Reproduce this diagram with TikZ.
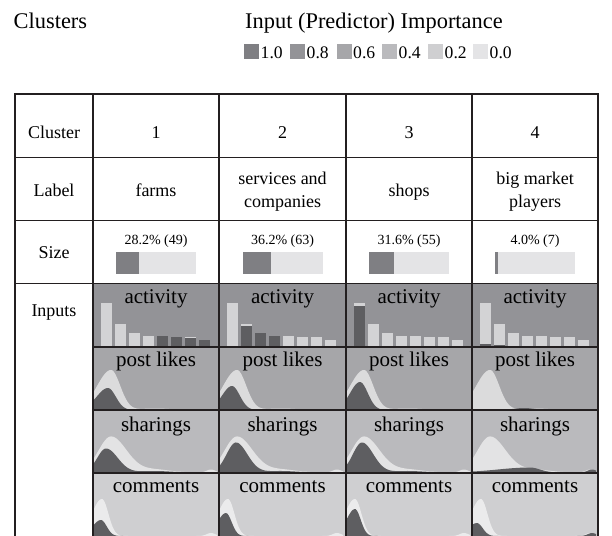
\documentclass[tikz,border=0pt]{standalone}
\usepackage{fontspec}
\setmainfont{Liberation Serif}
\usepackage{xcolor}
\usetikzlibrary{calc,positioning}

\definecolor{imp10}{HTML}{7F7F83}
\definecolor{imp08}{HTML}{939397}
\definecolor{imp06}{HTML}{A6A6A9}
\definecolor{imp04}{HTML}{BABABD}
\definecolor{imp02}{HTML}{CFCFD1}
\definecolor{imp00}{HTML}{E4E4E6}
\definecolor{rule}{HTML}{231F20}
\definecolor{clusterfill}{HTML}{5E5E61}

% density of one input in one cell: x0, base, peak, height, left width, right width, tail, style
\newcommand{\densfill}[8]{%
  \fill[#8] (#1,#2) -- plot[domain=0:124,samples=90,smooth]
    ({#1+\x},{#2-(#4*exp(-(\x-#3)*(\x-#3)/((\x<#3)?(#5*#5):(#6*#6)))+#7*exp(-(\x-62)*(\x-62)/484))})
    -- (#1+124,#2) -- cycle;}

\begin{document}
\begin{tikzpicture}[x=1pt,y=-1pt,
  title/.style={font=\fontsize{22.4}{27}\selectfont,inner sep=0pt,anchor=base west},
  lgd/.style={font=\fontsize{17.6}{21}\selectfont,inner sep=0pt,anchor=base west},
  celltext/.style={font=\fontsize{18}{23}\selectfont,inner sep=0pt,anchor=base,align=center},
  pcttext/.style={font=\fontsize{14}{17}\selectfont,inner sep=0pt,anchor=base},
  inlabel/.style={font=\fontsize{21}{25}\selectfont,inner sep=0pt,anchor=base},
  overall/.style={fill=white,fill opacity=0.6},
  gridline/.style={draw=rule,line width=1.5pt}]

\useasboundingbox (0,0) rectangle (612,535);

\node[title] (clusters) at (13.5,29) {Clusters};
\node[title] (importance) at (245,29) {Input (Predictor) Importance};

% legend
\foreach \lx/\c/\v [count=\k] in {244/imp10/1.0,290/imp08/0.8,336.5/imp06/0.6,382/imp04/0.4,428/imp02/0.2,473/imp00/0.0}{
  \fill[\c] (\lx,44) rectangle ++(15,15);
  \node[lgd] (lgd\k) at (\lx+16.5,59) {\v};
}

% input rows
\fill[imp08] (93,283.5) rectangle (598,347);
\fill[imp06] (93,347) rectangle (598,410);
\fill[imp04] (93,410) rectangle (598,473);
\fill[imp02] (93,473) rectangle (598,537);

% activity
\foreach \cx/\dk in {93/{0,0,0,0,10,9,8.5,6},219/{0,20,13,10,0,0,0,0},346/{40,0,0,0,0,0,0,0},472/{2,1,0,0,0,0,0,0}}{
  \foreach \h [count=\i from 0] in {43,22,13,10,10,9,9.5,6}
    \fill[overall] ({\cx+8+14*\i},346) rectangle ++(11,-\h);
  \foreach \h [count=\i from 0] in \dk
    \fill[clusterfill] ({\cx+8+14*\i},346) rectangle ++(11,-\h);
}

% post likes
\foreach \cx in {93,219,346,472}
  \densfill{\cx}{410}{18}{40}{19.5}{13}{1.5}{overall};
\foreach \cx/\pp/\ph/\pl/\pr in {93/15/22/16/11,219/13/24/14/11,346/14/28/14/11}
  \densfill{\cx}{410}{\pp}{\ph}{\pl}{\pr}{0}{clusterfill};
\densfill{472}{410}{52}{2}{14}{14}{0}{clusterfill};

% sharings
\foreach \cx in {93,219,346,472}{
  \densfill{\cx}{472.5}{18}{36}{17.8}{22}{3}{overall};
  \densfill{\cx}{472.5}{118}{3}{6}{6}{0}{overall};
}
\foreach \cx/\pp/\ph/\pl/\pr in {93/13/24/12.4/16.6,219/17/30/13.4/16,346/16/30/13/16}
  \densfill{\cx}{472.5}{\pp}{\ph}{\pl}{\pr}{1.5}{clusterfill};
\densfill{472}{472.5}{58}{5}{45}{14}{0}{clusterfill};
\densfill{472}{472.5}{120}{3}{6}{6}{0}{clusterfill};

% comments
\foreach \cx in {93,219,346,472}{
  \densfill{\cx}{536}{9}{37}{14.4}{9}{0}{overall};
  \densfill{\cx}{536}{118}{3}{6}{6}{0}{overall};
}
\foreach \cx/\pp/\ph in {93/8/16,219/7/23,346/9/27,472/5/13}
  \densfill{\cx}{536}{\pp}{\ph}{12}{8}{0}{clusterfill};
\densfill{472}{536}{120}{3}{6}{6}{0}{clusterfill};

% size bars
\foreach \cx/\pc in {156/28.2,282.5/36.2,409/31.6,535/4.0}{
  \fill[imp00] (\cx-40,252) rectangle (\cx+40,274);
  \fill[imp10] (\cx-40,252) rectangle (\cx-40+0.8*\pc,274);
}

% grid
\draw[gridline] (15,94) -- (598,94);
\draw[gridline] (15,157.5) -- (598,157.5);
\draw[gridline] (15,220.5) -- (598,220.5);
\draw[gridline] (15,283.5) -- (598,283.5);
\draw[gridline] (93,347) -- (598,347);
\draw[gridline] (93,410) -- (598,410);
\draw[gridline] (93,473) -- (598,473);
\foreach \vx in {15,93,219,346,472,598}
  \draw[gridline] (\vx,93.25) -- (\vx,537);

% table texts
\node[celltext] (hcluster) at (54,138) {Cluster};
\node[celltext] (hone) at (156,138) {1};
\node[celltext] (htwo) at (282.5,138) {2};
\node[celltext] (hthree) at (409,138) {3};
\node[celltext] (hfour) at (535,138) {4};

\node[celltext] (hlabel) at (54,196) {Label};
\node[celltext] (farms) at (156,196) {farms};
\node[celltext] (services) at (282.5,207) {services and\\companies};
\node[celltext] (shops) at (409,196) {shops};
\node[celltext] (bigplayers) at (535,207) {big market\\players};

\node[celltext] (hsize) at (54,258) {Size};
\node[pcttext] (sizeone) at (156,244) {28.2\% (49)};
\node[pcttext] (sizetwo) at (282.5,244) {36.2\% (63)};
\node[pcttext] (sizethree) at (409,244) {31.6\% (55)};
\node[pcttext] (sizefour) at (535,244) {4.0\% (7)};

\node[celltext] (hinputs) at (54,316) {Inputs};

\foreach \cx [count=\k] in {156,282.5,409,535}{
  \node[inlabel] (activity\k) at (\cx,303) {activity};
  \node[inlabel] (likes\k) at (\cx,366.5) {post likes};
  \node[inlabel] (sharings\k) at (\cx,431) {sharings};
  \node[inlabel] (comments\k) at (\cx,492) {comments};
}

\end{tikzpicture}
\end{document}
